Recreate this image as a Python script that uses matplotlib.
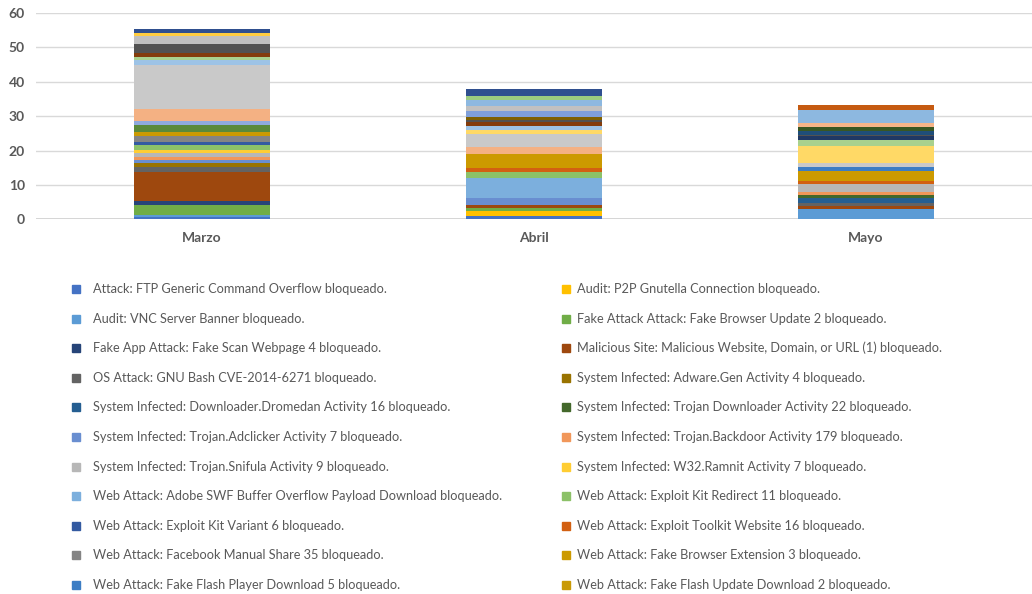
import numpy as np
import matplotlib
matplotlib.use("Agg")
import matplotlib.pyplot as plt
from matplotlib.patches import Rectangle

plt.rcParams['font.family'] = ['Lato', 'DejaVu Sans']

# meses del eje x
meses = ['Marzo', 'Abril', 'Mayo']

# firmas con nombre en la leyenda (en el orden de las series)
nombres = [
    'Attack: FTP Generic Command Overflow bloqueado.',
    'Audit: P2P Gnutella Connection bloqueado.',
    'Audit: VNC Server Banner bloqueado.',
    'Fake Attack Attack: Fake Browser Update 2 bloqueado.',
    'Fake App Attack: Fake Scan Webpage 4 bloqueado.',
    'Malicious Site: Malicious Website, Domain, or URL (1) bloqueado.',
    'OS Attack: GNU Bash CVE-2014-6271 bloqueado.',
    'System Infected: Adware.Gen Activity 4 bloqueado.',
    'System Infected: Downloader.Dromedan Activity 16 bloqueado.',
    'System Infected: Trojan Downloader Activity 22 bloqueado.',
    'System Infected: Trojan.Adclicker Activity 7 bloqueado.',
    'System Infected: Trojan.Backdoor Activity 179 bloqueado.',
    'System Infected: Trojan.Snifula Activity 9 bloqueado.',
    'System Infected: W32.Ramnit Activity 7 bloqueado.',
    'Web Attack: Adobe SWF Buffer Overflow Payload Download bloqueado.',
    'Web Attack: Exploit Kit Redirect 11 bloqueado.',
    'Web Attack: Exploit Kit Variant 6 bloqueado.',
    'Web Attack: Exploit Toolkit Website 16 bloqueado.',
    'Web Attack: Facebook Manual Share 35 bloqueado.',
    'Web Attack: Fake Browser Extension 3 bloqueado.',
    'Web Attack: Fake Flash Player Download 5 bloqueado.',
    'Web Attack: Fake Flash Update Download 2 bloqueado.',
]

# colores de todas las series (las ultimas no salen en la leyenda)
colores = [
    '#4472C4', '#FFC000', '#5B9BD5', '#70AD47', '#264478', '#9E480E',
    '#636363', '#997300', '#255E91', '#43682B', '#698ED0', '#F1975A',
    '#B7B7B7', '#FFCD33', '#7CAFDD', '#8CC168', '#335AA1', '#D26012',
    '#848484', '#CC9A00', '#3C7DC4', '#C99A06',
    '#5A8A39', '#8FAADC', '#F4B183', '#C9C9C9', '#FFD966', '#9DC3E6',
    '#A9D18E', '#203864', '#843C0C', '#525252', '#7F6000', '#1F4E79',
    '#385723', '#7F9FD9', '#F6B589', '#C0C0C0', '#FFCC40', '#8DB8E0',
    '#9CCB7F', '#2F4F8F', '#C55A11',
]

# bloqueos por serie y mes
marzo = [0.6, 0, 0.6, 3.0, 1.2, 8.5, 1.4, 1.2, 0, 0, 0.7, 1.1, 1.0, 0.8, 0,
         1.5, 1.0, 0, 1.7, 0.7, 0, 0.3,
         2.1, 1.1, 3.7, 12.8, 0, 1.3, 1.0, 0, 1.0, 2.7, 0, 0, 0, 0, 0,
         2.2, 1.0, 0, 0, 1.1, 0]
abril = [1.0, 1.5, 0, 0.8, 0, 0.9, 0, 0, 0, 0, 1.9, 0, 0, 0, 6.0,
         1.7, 0, 1.3, 0, 3.8, 0, 0,
         0, 0, 2.3, 3.7, 1.0, 1.3, 0, 0, 1.0, 0.7, 1.0, 0, 0, 1.7, 0,
         1.4, 0, 1.6, 1.3, 2.0, 0]
mayo = [0, 0, 3.0, 0, 0, 1.0, 0.9, 0, 1.3, 0.9, 0, 0.8, 2.3, 0, 0,
        0, 0, 1.0, 0, 2.8, 1.3, 0,
        0, 0, 0, 1.0, 5.0, 0, 1.7, 1.2, 0, 0.3, 0, 1.3, 1.2, 0, 1.1,
        0, 0, 3.6, 0, 0, 1.5]

gris = '#595959'

fig = plt.figure(figsize=(10.32, 5.94), dpi=100)
ax = fig.add_axes([0.035, 0.6305, 0.965, 0.3475])

x = np.arange(len(meses))
datos = np.array([marzo, abril, mayo]).T
base = np.zeros(len(meses))
for i in range(datos.shape[0]):
    ax.bar(x, datos[i], 0.41, bottom=base, color=colores[i], zorder=3, linewidth=0)
    base += datos[i]

# ejes y rejilla
ax.set_ylim(0, 60)
ax.set_xlim(-0.5, 2.5)
ax.set_yticks(range(0, 61, 10))
ax.grid(axis='y', color='#D9D9D9', linewidth=1, zorder=0)
ax.axhline(0, color='#D0D0D0', linewidth=1.2, zorder=2)
for s in ax.spines.values():
    s.set_visible(False)
ax.tick_params(length=0, pad=8)
ax.set_xticks(x)
ax.set_xticklabels(meses, fontsize=10, fontweight='bold', color=gris)
ax.tick_params(axis='x', pad=9)
for t in ax.get_yticklabels():
    t.set_fontsize(10)
    t.set_fontweight('bold')
    t.set_color(gris)

# leyenda en dos columnas, por filas
W, H = 1032, 594
for k, nombre in enumerate(nombres):
    col, fila = k % 2, k // 2
    xm, xt = (72, 93) if col == 0 else (562, 577)
    ym = 289 + fila * 29.6
    fig.patches.append(Rectangle((xm / W, 1 - (ym + 4) / H), 8 / W, 8 / H,
                                 transform=fig.transFigure, color=colores[k]))
    fig.text(xt / W, 1 - ym / H, nombre, fontsize=9.2, color=gris,
             va='center', ha='left')

fig.savefig('out.png', dpi=100)
